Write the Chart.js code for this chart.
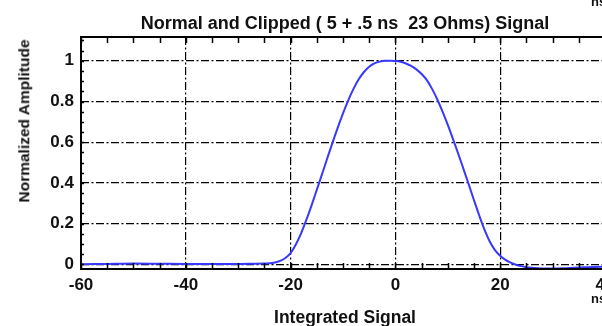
<!DOCTYPE html>
<html>
<head>
<meta charset="utf-8">
<script src="https://cdn.jsdelivr.net/npm/chart.js@4/dist/chart.umd.min.js"></script>
<style>
  html, body { margin: 0; padding: 0; background: #fff; }
  #wrap { position: relative; width: 602px; height: 326px; overflow: hidden; }
  #chart { position: absolute; left: 0; top: 0; }
  .lbl { position: absolute; font-family: "Liberation Sans", Arial, sans-serif; font-weight: bold;
         color: #111; white-space: pre; line-height: 1; }
  #title { left: 345px; top: 14px; font-size: 18px; transform: translateX(-50%); }
  #ytitle { left: 24px; top: 121px; font-size: 15.5px; transform: translate(-50%, -50%) rotate(-90deg); }
  #xtitle { left: 345px; top: 309px; font-size: 17.5px; transform: translateX(-50%); }
  #nsTop { left: 591px; top: -5px; font-size: 13px; }
  #nsBottom { left: 591px; top: 292px; font-size: 13px; }
</style>
</head>
<body>
<div id="wrap">
  <canvas id="chart" width="640" height="326"></canvas>
  <div class="lbl" id="title">Normal and Clipped ( 5 + .5 ns  23 Ohms) Signal</div>
  <div class="lbl" id="ytitle">Normalized Amplitude</div>
  <div class="lbl" id="xtitle">Integrated Signal</div>
  <div class="lbl" id="nsTop">ns</div>
  <div class="lbl" id="nsBottom">ns</div>
</div>
<script>
// time axis (ns) and normalized amplitude
const timeNs = [-60, -55, -50, -45, -40, -35, -30, -27, -25, -24, -23, -22, -21, -20, -19, -18, -17, -16,
  -15, -14, -13, -12, -11, -10, -9, -8, -7, -6, -5, -4, -3, -2, -1, 0, 1, 2, 3, 4, 5, 6, 7, 8, 9, 10,
  11, 12, 13, 14, 15, 16, 17, 18, 19, 20, 21, 22, 23, 24, 25, 26, 28, 30, 32, 34, 36, 38, 40];
const amplitude = [0.000, 0.002, 0.004, 0.003, 0.002, 0.002, 0.002, 0.003, 0.004, 0.005, 0.009, 0.017, 0.031, 0.055,
  0.097, 0.152, 0.218, 0.290, 0.366, 0.443, 0.521, 0.598, 0.672, 0.742, 0.806, 0.862, 0.909, 0.945, 0.971,
  0.987, 0.996, 1.000, 1.000, 0.999, 0.995, 0.987, 0.975, 0.958, 0.935, 0.905, 0.862, 0.810, 0.750, 0.685,
  0.615, 0.543, 0.468, 0.392, 0.315, 0.240, 0.170, 0.112, 0.070, 0.042, 0.022, 0.008, -0.002, -0.009,
  -0.014, -0.017, -0.020, -0.020, -0.019, -0.017, -0.015, -0.013, -0.012];

const xRange = [-60, 40];
const yRange = [-0.023, 1.117];
const xMajorStep = 20;
const xMinorStep = 5;
const yMajorStep = 0.2;
const yMinorStep = 0.05;

const tickFont = { family: "'Liberation Sans', Arial, sans-serif", size: 17, weight: "bold" };

const framePlugin = {
  id: "frame",
  afterDatasetsDraw(chart) {
    const { ctx, chartArea: a, scales } = chart;
    const x = scales.x;
    const y = scales.y;
    ctx.save();
    ctx.strokeStyle = "#000";
    ctx.lineWidth = 1.5;
    ctx.beginPath();
    for (let v = xRange[0]; v <= xRange[1]; v += xMinorStep) {
      const px = Math.round(x.getPixelForValue(v)) + 0.5;
      ctx.moveTo(px, a.top);
      ctx.lineTo(px, a.top + 6);
      ctx.moveTo(px, a.bottom);
      ctx.lineTo(px, a.bottom - 6);
    }
    for (let v = 0; v <= 1.1001; v += yMinorStep) {
      const py = Math.round(y.getPixelForValue(v)) + 0.5;
      ctx.moveTo(a.left, py);
      ctx.lineTo(a.left + 3, py);
    }
    ctx.stroke();
    ctx.lineWidth = 2;
    ctx.strokeRect(a.left, a.top, a.right - a.left, a.bottom - a.top);
    ctx.restore();
  },
};

new Chart(document.querySelector("#chart"), {
  type: "line",
  data: {
    datasets: [
      {
        data: timeNs.map((t, i) => ({ x: t, y: amplitude[i] })),
        borderColor: "#3838ff",
        borderWidth: 2,
        pointRadius: 0,
        cubicInterpolationMode: "monotone",
        fill: false,
      },
    ],
  },
  options: {
    responsive: false,
    animation: false,
    layout: { padding: { top: 37, right: 35, left: 0, bottom: 0 } },
    plugins: { legend: { display: false }, tooltip: { enabled: false } },
    scales: {
      x: {
        type: "linear",
        min: xRange[0],
        max: xRange[1],
        afterFit: (scale) => { scale.height = 57; },
        ticks: {
          stepSize: xMajorStep,
          includeBounds: false,
          padding: 6,
          color: "#111",
          font: tickFont,
          maxRotation: 0,
          autoSkip: false,
        },
        grid: { color: "#000", lineWidth: 1.2, drawTicks: false },
        border: { display: false, dash: [8, 2.5, 2, 2.5] },
      },
      y: {
        min: yRange[0],
        max: yRange[1],
        afterFit: (scale) => { scale.width = 81; },
        ticks: {
          stepSize: yMajorStep,
          includeBounds: false,
          padding: 7,
          color: "#111",
          font: tickFont,
          callback: (v) => String(Math.round(v * 10) / 10),
        },
        grid: { color: "#000", lineWidth: 1.2, drawTicks: false },
        border: { display: false, dash: [8, 2.5, 2, 2.5] },
      },
    },
  },
  plugins: [framePlugin],
});
</script>
</body>
</html>
